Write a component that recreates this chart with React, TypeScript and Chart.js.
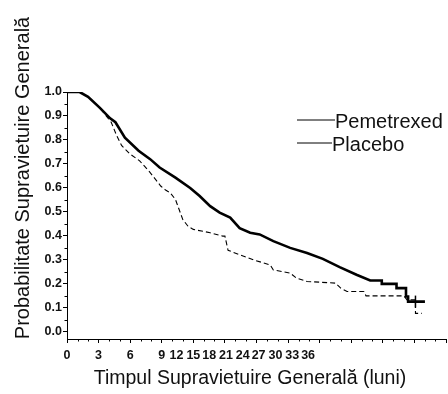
import React, { useEffect, useRef } from "react";
import { Chart, registerables } from "chart.js";

Chart.register(...registerables);

// ---- data ----
const seriesNames = ["Pemetrexed", "Placebo"];

const pemMonths = [0, 1.2, 2.0, 3.1, 4.1, 4.6, 5.5, 6.8, 7.9, 8.8, 10.3, 11.7, 12.6, 13.6, 14.5, 15.5, 16.4, 17.4, 18.3, 19.6, 21.2, 22.8, 24.3, 25.9, 27.5, 28.8, 29.9, 29.9, 31.3, 31.3, 32.2, 32.2, 32.4, 32.4, 34.0];
const pemSurv = [1.0, 1.0, 0.98, 0.935, 0.89, 0.874, 0.81, 0.755, 0.72, 0.685, 0.643, 0.60, 0.566, 0.524, 0.497, 0.476, 0.432, 0.413, 0.406, 0.378, 0.35, 0.329, 0.304, 0.27, 0.238, 0.214, 0.214, 0.20, 0.20, 0.182, 0.182, 0.147, 0.147, 0.126, 0.126];

const plaMonths = [0, 1.2, 2.0, 3.1, 4.2, 4.7, 5.2, 6.0, 6.9, 7.9, 8.9, 9.4, 9.8, 10.3, 11.0, 11.5, 12.0, 13.6, 14.8, 15.0, 15.3, 16.4, 17.7, 19.3, 19.6, 21.2, 21.8, 22.8, 25.5, 26.0, 26.6, 28.2, 28.4, 32.0, 32.3, 33.1, 33.1, 33.7];
const plaSurv = [1.0, 1.0, 0.98, 0.935, 0.874, 0.82, 0.776, 0.741, 0.713, 0.664, 0.608, 0.59, 0.58, 0.552, 0.468, 0.44, 0.427, 0.413, 0.399, 0.399, 0.34, 0.321, 0.30, 0.279, 0.258, 0.245, 0.224, 0.21, 0.203, 0.182, 0.168, 0.168, 0.15, 0.15, 0.133, 0.133, 0.077, 0.077];

const censorMonths = [33.1];
const censorSurv = [0.126];

const yTickValues = [0, 0.1, 0.2, 0.3, 0.4, 0.5, 0.6, 0.7, 0.8, 0.9, 1.0];
const xMajorTicks = [0, 3, 6, 9, 12, 15, 18, 21, 24, 27, 30, 33, 36];
const xTickLabels = ["0", "3", "6", "9", "12", "15", "18", "21", "24", "27", "30", "33", "36"];
// where each x label sits on the month scale in the reference (labels are crowded there)
const xTickLabelAt = [0, 3, 6, 9, 10.4, 12, 13.5, 15.1, 16.7, 18.2, 19.8, 21.4, 22.9];

const xTitle = "Timpul Supravietuire Generală (luni)";
const yTitle = "Probabilitate Supravietuire Generală";

const FONT = "'Liberation Sans', Arial, sans-serif";

const decorPlugin = {
  id: "decor",
  afterDraw(chart: any) {
    const { ctx, chartArea, scales } = chart;
    const x = scales.x;
    const y = scales.y;
    ctx.save();
    ctx.strokeStyle = "#000";
    ctx.lineWidth = 1;
    // minor x ticks
    ctx.beginPath();
    for (let m = 0; m <= 36; m++) {
      if (m % 3 === 0) continue;
      const px = Math.round(x.getPixelForValue(m)) + 0.5;
      ctx.moveTo(px, chartArea.bottom);
      ctx.lineTo(px, chartArea.bottom + 2.5);
    }
    // minor y ticks
    for (let i = 0; i < 10; i++) {
      const v = i * 0.1 + 0.05;
      const py = Math.round(y.getPixelForValue(v)) + 0.5;
      ctx.moveTo(chartArea.left, py);
      ctx.lineTo(chartArea.left - 2.5, py);
    }
    ctx.stroke();

    ctx.fillStyle = "#111";
    ctx.textBaseline = "middle";

    // x axis title
    ctx.font = `19.5px ${FONT}`;
    ctx.textAlign = "center";
    ctx.fillText(xTitle, chartArea.left + 183, chartArea.bottom + 40);

    // y axis title
    ctx.font = `20px ${FONT}`;
    ctx.save();
    ctx.translate(chartArea.left - 44, chartArea.top + 86);
    ctx.rotate(-Math.PI / 2);
    ctx.fillText(yTitle, 0, 0);
    ctx.restore();

    // legend (lines + labels)
    const legendX = chartArea.left + 230;
    const lineLens = [38, 35];
    const rows = [chartArea.top + 29, chartArea.top + 52];
    ctx.textAlign = "left";
    seriesNames.forEach((name, i) => {
      const yy = Math.round(rows[i]) + 0.5;
      ctx.beginPath();
      ctx.moveTo(legendX, yy - 1.5);
      ctx.lineTo(legendX + lineLens[i], yy - 1.5);
      ctx.stroke();
      ctx.fillText(name, legendX + lineLens[i], yy + 0.5);
    });
    ctx.restore();
  },
};

export default function App() {
  const canvasRef = useRef<HTMLCanvasElement | null>(null);

  useEffect(() => {
    const canvas = canvasRef.current;
    if (!canvas) return;
    const chart = new Chart(canvas, {
      type: "line",
      data: {
        datasets: [
          {
            label: seriesNames[0],
            data: pemMonths.map((m, i) => ({ x: m, y: pemSurv[i] })),
            borderColor: "#000",
            borderWidth: 2.6,
            tension: 0,
            pointRadius: 0,
            fill: false,
          },
          {
            label: seriesNames[1],
            data: plaMonths.map((m, i) => ({ x: m, y: plaSurv[i] })),
            borderColor: "#000",
            borderWidth: 1.1,
            borderDash: [5, 3],
            tension: 0,
            pointRadius: 0,
            fill: false,
          },
          {
            label: "censored",
            data: censorMonths.map((m, i) => ({ x: m, y: censorSurv[i] })),
            showLine: false,
            pointStyle: "line",
            rotation: 90,
            pointRadius: 6,
            borderColor: "#000",
            borderWidth: 1.5,
          },
        ],
      },
      options: {
        responsive: false,
        animation: false,
        layout: { autoPadding: false, padding: { top: 92, right: 2, left: 0, bottom: 0 } },
        plugins: {
          legend: { display: false },
          tooltip: { enabled: false },
        },
        scales: {
          x: {
            type: "linear",
            position: "bottom",
            weight: 0,
            min: 0,
            max: 36,
            afterBuildTicks: (s: any) => {
              s.ticks = xMajorTicks.map((v) => ({ value: v }));
            },
            afterFit: (s: any) => {
              s.height = 6;
            },
            ticks: { display: false },
            grid: {
              drawOnChartArea: false,
              drawTicks: true,
              tickLength: 4,
              color: "#000",
              tickColor: "#000",
            },
            border: { display: true, color: "#000", width: 1 },
          },
          xl: {
            type: "linear",
            axis: "x",
            position: "bottom",
            weight: 1,
            min: 0,
            max: 36,
            afterBuildTicks: (s: any) => {
              s.ticks = xTickLabelAt.map((v) => ({ value: v }));
            },
            afterFit: (s: any) => {
              s.height = 49;
            },
            ticks: {
              autoSkip: false,
              maxRotation: 0,
              minRotation: 0,
              padding: 3,
              color: "#111",
              font: { family: FONT, size: 12.5, weight: "bold" },
              callback: (_v: any, i: number) => xTickLabels[i],
            },
            grid: { display: false, drawTicks: false },
            border: { display: false },
          },
          y: {
            type: "linear",
            position: "left",
            min: -0.03,
            max: 1.0,
            afterBuildTicks: (s: any) => {
              s.ticks = yTickValues.map((v) => ({ value: v }));
            },
            afterFit: (s: any) => {
              s.width = 67;
            },
            ticks: {
              padding: 1,
              color: "#111",
              font: { family: FONT, size: 12.5, weight: "bold" },
              callback: (v: any) => Number(v).toFixed(1),
            },
            grid: {
              drawOnChartArea: false,
              drawTicks: true,
              tickLength: 4,
              color: "#000",
              tickColor: "#000",
            },
            border: { display: true, color: "#000", width: 1 },
          },
        },
      },
      plugins: [decorPlugin],
    } as any);
    return () => chart.destroy();
  }, []);

  return (
    <div style={{ position: "fixed", left: 0, top: 0, width: 448, height: 394, background: "#fff" }}>
      <canvas ref={canvasRef} width={448} height={394} style={{ display: "block" }} />
    </div>
  );
}
